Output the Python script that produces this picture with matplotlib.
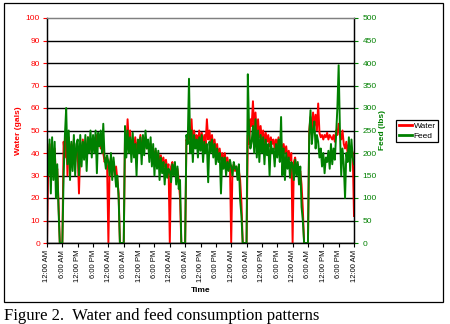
import numpy as np
import matplotlib
matplotlib.use("Agg")
import matplotlib.pyplot as plt
from matplotlib.patches import Rectangle

plt.rcParams['font.family'] = ['Liberation Sans', 'DejaVu Sans']

# half-hour readings over five days, starting at midnight
hours = np.arange(0, 120.5, 0.5)

water = [
    0, 36, 44, 30, 40, 33, 42, 28, 33, 18, 0, 0,
    0, 45, 38, 50, 30, 47, 34, 44, 38, 46, 36, 42,
    40, 22, 42, 38, 46, 40, 44, 41, 47, 43, 46, 40,
    44, 46, 42, 48, 44, 46, 42, 48, 40, 36, 38, 34,
    0, 35, 38, 32, 36, 30, 34, 28, 22, 0, 0, 0,
    0, 48, 42, 55, 44, 50, 40, 46, 42, 47, 40, 45,
    42, 48, 41, 46, 43, 47, 42, 45, 40, 44, 39, 42,
    38, 41, 37, 40, 36, 39, 35, 38, 34, 37, 33, 35,
    0, 34, 36, 31, 35, 30, 33, 28, 20, 0, 0, 0,
    0, 46, 44, 52, 46, 55, 43, 50, 45, 48, 42, 50,
    44, 49, 43, 48, 44, 55, 46, 50, 44, 48, 42, 46,
    40, 44, 38, 42, 37, 40, 36, 40, 35, 38, 34, 36,
    0, 33, 35, 32, 34, 30, 32, 28, 18, 0, 0, 0,
    0, 48, 44, 55, 52, 63, 50, 58, 48, 55, 47, 52,
    46, 50, 44, 49, 45, 48, 43, 47, 44, 46, 42, 46,
    43, 47, 42, 45, 41, 44, 40, 43, 38, 41, 37, 40,
    0, 36, 38, 33, 35, 30, 32, 26, 15, 0, 0, 0,
    0, 50, 56, 48, 58, 52, 57, 50, 62, 49, 47, 48,
    46, 48, 47, 49, 46, 48, 47, 46, 48, 45, 50, 48,
    53, 48, 46, 50, 44, 42, 45, 40, 44, 38, 42, 40,
    12,
]

feed = [
    200, 150, 230, 110, 235, 140, 225, 100, 175, 75, 0, 0,
    0, 150, 240, 300, 175, 250, 140, 225, 160, 240, 150, 220,
    230, 150, 240, 170, 225, 185, 240, 160, 235, 200, 250, 190,
    240, 200, 250, 155, 245, 215, 250, 200, 265, 190, 165, 195,
    180, 150, 200, 140, 190, 160, 125, 150, 100, 0, 0, 0,
    0, 260, 190, 250, 200, 235, 180, 245, 190, 220, 150, 230,
    200, 235, 175, 240, 195, 250, 210, 230, 180, 235, 170, 220,
    150, 210, 165, 205, 140, 190, 155, 180, 130, 175, 145, 165,
    160, 135, 175, 150, 180, 130, 170, 120, 140, 0, 0, 0,
    0, 240, 220, 365, 200, 250, 180, 240, 210, 230, 190, 235,
    205, 240, 180, 225, 200, 220, 135, 225, 200, 230, 190, 220,
    175, 210, 180, 200, 110, 190, 165, 190, 150, 180, 160, 185,
    170, 150, 180, 165, 170, 140, 175, 95, 60, 0, 0, 0,
    0, 375, 250, 210, 225, 260, 200, 275, 190, 250, 180, 240,
    200, 235, 175, 230, 195, 220, 150, 225, 200, 210, 170, 220,
    190, 230, 180, 280, 150, 210, 140, 200, 165, 190, 145, 180,
    175, 140, 185, 150, 180, 130, 170, 80, 50, 0, 0, 0,
    0, 240, 295, 220, 250, 270, 210, 240, 225, 190, 210, 170,
    200, 155, 190, 180, 205, 165, 220, 175, 210, 185, 240, 300,
    395, 250, 150, 210, 175, 100, 200, 180, 235, 160, 230, 190,
    175,
]

tick_hours = np.arange(0, 121, 6)
tick_names = ["12:00 AM", "6:00 AM", "12:00 PM", "6:00 PM"]
tick_labels = [tick_names[i % 4] for i in range(len(tick_hours))]

RED = "#ff0000"
GREEN = "#008000"

fig = plt.figure(figsize=(4.5, 3.24), dpi=100)
ax = fig.add_axes([47 / 450, 1 - 243 / 324, 307 / 450, 225 / 324])
ax2 = ax.twinx()

ax.plot(hours, water, color=RED, lw=1.4, label="Water")
ax2.plot(hours, feed, color=GREEN, lw=1.4, label="Feed")

ax.set_xlim(0, 120)
ax.set_ylim(0, 100)
ax2.set_ylim(0, 500)
ax.set_yticks(np.arange(0, 101, 10))
ax2.set_yticks(np.arange(0, 501, 50))
ax.set_xticks(tick_hours)
ax.set_xticklabels(tick_labels, rotation=90, fontsize=5.5)

ax.yaxis.grid(True, color="black", lw=1.0)
ax.get_ygridlines()[-1].set_visible(False)
ax.set_axisbelow(True)

ax.tick_params(axis="y", colors=RED, labelsize=6, length=3, width=0.8, pad=2)
ax2.tick_params(axis="y", colors=GREEN, labelsize=6, length=3, width=0.8, pad=3)
ax.tick_params(axis="x", length=3, width=0.8, pad=2)

for a in (ax, ax2):
    a.spines["top"].set_color("#808080")
    a.spines["left"].set_color("black")
    a.spines["right"].set_color("black")
    a.spines["bottom"].set_color("black")
    for s in a.spines.values():
        s.set_linewidth(0.9)

ax.set_ylabel("Water (gals)", color=RED, fontsize=6, fontweight="bold", labelpad=3)
ax2.set_ylabel("Feed (lbs)", color=GREEN, fontsize=6, fontweight="bold", labelpad=2)
ax.set_xlabel("Time", fontsize=6, fontweight="bold", labelpad=3)

h1, l1 = ax.get_legend_handles_labels()
h2, l2 = ax2.get_legend_handles_labels()
leg = fig.legend(h1 + h2, l1 + l2, loc="center left",
                 bbox_to_anchor=(396 / 450, 1 - 131 / 324),
                 fontsize=6, fancybox=False, framealpha=1, edgecolor="black",
                 handlelength=1.6, handletextpad=0.2, borderpad=0.3,
                 labelspacing=0.2, borderaxespad=0)
leg.get_frame().set_linewidth(0.9)
for line in leg.get_lines():
    line.set_linewidth(2)

# chart border
fig.patches.append(Rectangle((4 / 450, 1 - 302 / 324), 439 / 450, 299 / 324,
                             transform=fig.transFigure, fill=False,
                             edgecolor="black", lw=0.9))

fig.text(4 / 450, 1 - 320 / 324, "Figure 2.  Water and feed consumption patterns",
         family="Liberation Serif", fontsize=12, ha="left", va="baseline")

fig.savefig("out.png", dpi=100)
